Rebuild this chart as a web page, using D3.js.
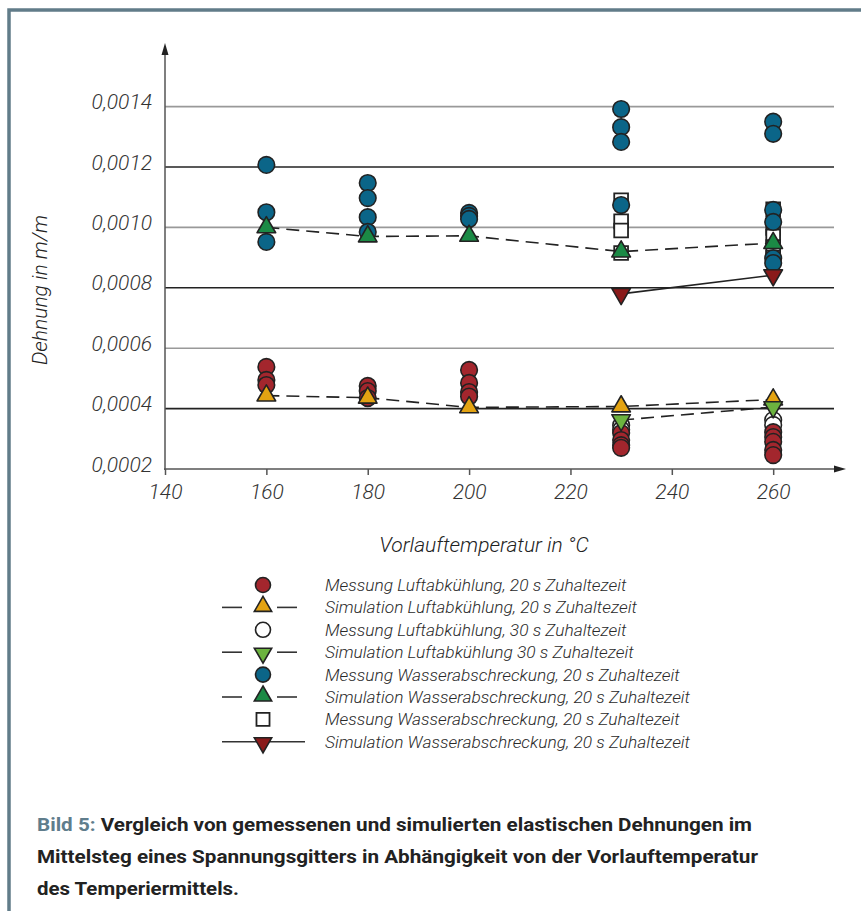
<!DOCTYPE html>
<html>
<head>
<meta charset="utf-8">
<script src="https://cdn.jsdelivr.net/npm/d3@7"></script>
<style>
  body { margin: 0; background: #fff; }
  text { font-family: Roboto, "Liberation Sans", sans-serif; }
</style>
</head>
<body>
<div id="chart"></div>
<script>
// temperatures on the x axis
var temps = [160, 180, 200, 230, 260];
var xTicks = [140, 160, 180, 200, 220, 240, 260];
var yTicks = [0.0002, 0.0004, 0.0006, 0.0008, 0.0010, 0.0012, 0.0014];

// measurements: [temperature, [values...]]
var messLuft20 = [
  [160, [0.000538, 0.000495, 0.000478]],
  [180, [0.000475, 0.000458, 0.000435]],
  [200, [0.000528, 0.000485, 0.000455, 0.00044]],
  [230, [0.000319, 0.000296, 0.000279, 0.00027]],
  [260, [0.000322, 0.000306, 0.00029, 0.000263, 0.000246]]
];
var messLuft30 = [
  [230, [0.000345, 0.00033]],
  [260, [0.000362, 0.000346]]
];
var messWasser20 = [
  [160, [0.001207, 0.00105, 0.000952]],
  [180, [0.001147, 0.001097, 0.001034, 0.000985]],
  [200, [0.001048, 0.001038, 0.001028]],
  [230, [0.001392, 0.001332, 0.001283, 0.001074]],
  [260, [0.00135, 0.00131, 0.001058, 0.001018, 0.000898, 0.000882]]
];
var messWasser20b = [
  [230, [0.00109, 0.00102, 0.00099, 0.000915]],
  [260, [0.00106, 0.000998, 0.00097, 0.000935, 0.0009]]
];

// simulations (one value per temperature)
var simLuft20 = [0.000443, 0.000436, 0.000404, 0.000407, 0.00043];
var simLuft30Temps = [230, 260];
var simLuft30 = [0.000362, 0.000405];
var simWasser20 = [0.001, 0.00097, 0.000972, 0.00092, 0.000948];
var simWasser20bTemps = [230, 260];
var simWasser20b = [0.00078, 0.000842];

var legendLabels = [
  "Messung Luftabkühlung, 20 s Zuhaltezeit",
  "Simulation Luftabkühlung, 20 s Zuhaltezeit",
  "Messung Luftabkühlung, 30 s Zuhaltezeit",
  "Simulation Luftabkühlung 30 s Zuhaltezeit",
  "Messung Wasserabschreckung, 20 s Zuhaltezeit",
  "Simulation Wasserabschreckung, 20 s Zuhaltezeit",
  "Messung Wasserabschreckung, 20 s Zuhaltezeit",
  "Simulation Wasserabschreckung, 20 s Zuhaltezeit"
];

var col = {
  red: "#a3262d", orange: "#e3a312", blue: "#0b6588",
  green: "#1b8a45", lgreen: "#6cb33f", dred: "#8a1a1a", stroke: "#222"
};

var W = 861, H = 911;
var svg = d3.select("#chart").append("svg")
  .attr("width", W).attr("height", H);

// frame
svg.append("path")
  .attr("d", "M9," + (H + 5) + "V10H" + (W + 5))
  .attr("fill", "none").attr("stroke", "#617c89").attr("stroke-width", 3.5);

var x = d3.scaleLinear().domain([140, 272]).range([165, 834]);
var y = d3.scaleLinear().domain([0.0002, 0.0016]).range([469, 46.2]);

var de = d3.formatLocale({decimal: ",", thousands: ".", grouping: [3], currency: ["", "€"]});
var fmt = de.format(".4f");

// gridlines
svg.selectAll(".grid")
  .data(yTicks.slice(1))
  .enter().append("line")
  .attr("x1", x(140)).attr("x2", x(272))
  .attr("y1", function(d) { return y(d); })
  .attr("y2", function(d) { return y(d); })
  .attr("stroke", function(d, i) { return i % 2 == 0 ? "#222" : "#999"; })
  .attr("stroke-width", 1.6);

// x axis
var gx = svg.append("g")
  .attr("transform", "translate(0," + y(0.0002) + ")")
  .call(d3.axisBottom(x).tickValues(xTicks).tickSize(6).tickPadding(9));
gx.select(".domain").remove();
gx.selectAll("line").attr("stroke", "#555").attr("stroke-width", 1.5);
gx.selectAll("text")
  .attr("font-size", 21).attr("font-style", "italic").attr("font-weight", 300)
  .attr("fill", "#333");

// y axis
var gy = svg.append("g")
  .attr("transform", "translate(" + x(140) + ",0)")
  .call(d3.axisLeft(y).tickValues(yTicks).tickSize(0).tickPadding(13).tickFormat(fmt));
gy.select(".domain").remove();
gy.selectAll("text")
  .attr("font-size", 21).attr("font-style", "italic").attr("font-weight", 300)
  .attr("fill", "#333").attr("dy", "0.1em");

// axis lines with arrows
svg.append("line")
  .attr("x1", x(140)).attr("x2", x(140))
  .attr("y1", y(0.0002) + 1).attr("y2", 52)
  .attr("stroke", "#555").attr("stroke-width", 1.5);
svg.append("path")
  .attr("d", "M" + x(140) + ",43l-3.5,12h7z").attr("fill", "#222");
svg.append("line")
  .attr("x1", x(140) - 1).attr("x2", 836)
  .attr("y1", y(0.0002)).attr("y2", y(0.0002))
  .attr("stroke", "#555").attr("stroke-width", 1.5);
svg.append("path")
  .attr("d", "M846," + y(0.0002) + "l-12,-3.5v7z").attr("fill", "#222");

// axis titles
svg.append("text")
  .attr("transform", "translate(47,290) rotate(-90)")
  .attr("text-anchor", "middle")
  .attr("font-size", 21).attr("font-style", "italic").attr("font-weight", 300)
  .attr("fill", "#222")
  .text("Dehnung in m/m");
svg.append("text")
  .attr("x", 484).attr("y", 552)
  .attr("text-anchor", "middle")
  .attr("font-size", 21).attr("font-style", "italic").attr("font-weight", 300)
  .attr("fill", "#222")
  .text("Vorlauftemperatur in °C");

// helpers
function flatten(arr) {
  var out = [];
  arr.forEach(function(d) {
    d[1].forEach(function(v) { out.push({t: d[0], v: v}); });
  });
  return out;
}
var triUp = d3.symbol().type(d3.symbolTriangle).size(150);
var sq = d3.symbol().type(d3.symbolSquare).size(190);

function drawLine(ts, vs, dashed) {
  var pts = ts.map(function(t, i) { return [x(t), y(vs[i])]; });
  svg.append("path")
    .attr("d", d3.line()(pts))
    .attr("fill", "none").attr("stroke", col.stroke).attr("stroke-width", 1.6)
    .attr("stroke-dasharray", dashed ? "13,7" : null);
}
function drawCircles(data, fill) {
  svg.append("g").selectAll("circle")
    .data(flatten(data)).enter().append("circle")
    .attr("cx", function(d) { return x(d.t); })
    .attr("cy", function(d) { return y(d.v); })
    .attr("r", 8.3)
    .attr("fill", fill).attr("stroke", col.stroke).attr("stroke-width", 1.6);
}
function drawSquares(data) {
  svg.append("g").selectAll("path")
    .data(flatten(data)).enter().append("path")
    .attr("d", sq)
    .attr("transform", function(d) { return "translate(" + x(d.t) + "," + y(d.v) + ")"; })
    .attr("fill", "#fff").attr("stroke", col.stroke).attr("stroke-width", 1.8);
}
function drawTris(ts, vs, fill, down) {
  svg.append("g").selectAll("path")
    .data(ts.map(function(t, i) { return {t: t, v: vs[i]}; })).enter().append("path")
    .attr("d", triUp)
    .attr("transform", function(d) {
      return "translate(" + x(d.t) + "," + y(d.v) + ")" + (down ? " rotate(180)" : "");
    })
    .attr("fill", fill).attr("stroke", col.stroke).attr("stroke-width", 1.6)
    .attr("stroke-linejoin", "round");
}

// lines first
drawLine(temps, simLuft20, true);
drawLine(simLuft30Temps, simLuft30, true);
drawLine(temps, simWasser20, true);
drawLine(simWasser20bTemps, simWasser20b, false);

// measurements
drawCircles(messLuft30, "#fff");
drawCircles(messLuft20, col.red);
drawSquares(messWasser20b);
drawCircles(messWasser20, col.blue);

// simulation markers
drawTris(temps, simLuft20, col.orange, false);
drawTris(simLuft30Temps, simLuft30, col.lgreen, true);
drawTris(temps, simWasser20, col.green, false);
drawTris(simWasser20bTemps, simWasser20b, col.dred, true);

// legend
var legStyles = [
  {m: "circle", fill: col.red},
  {m: "up", fill: col.orange, line: "dash"},
  {m: "circle", fill: "#fff"},
  {m: "down", fill: col.lgreen, line: "dash"},
  {m: "circle", fill: col.blue},
  {m: "up", fill: col.green, line: "dash"},
  {m: "square", fill: "#fff"},
  {m: "down", fill: col.dred, line: "solid"}
];
var leg = svg.append("g");
var legTexts = [];
legendLabels.forEach(function(lab, i) {
  var cy = 585 + i * 22.4, cx = 263, s = legStyles[i];
  if (s.line == "dash") {
    leg.append("line").attr("x1", 222).attr("x2", 242).attr("y1", cy).attr("y2", cy)
      .attr("stroke", "#333").attr("stroke-width", 1.6);
    leg.append("line").attr("x1", 277).attr("x2", 297).attr("y1", cy).attr("y2", cy)
      .attr("stroke", "#333").attr("stroke-width", 1.6);
  } else if (s.line == "solid") {
    leg.append("line").attr("x1", 222).attr("x2", 305).attr("y1", cy).attr("y2", cy)
      .attr("stroke", "#333").attr("stroke-width", 1.6);
  }
  if (s.m == "circle") {
    leg.append("circle").attr("cx", cx).attr("cy", cy).attr("r", 7.5)
      .attr("fill", s.fill).attr("stroke", col.stroke).attr("stroke-width", 1.6);
  } else if (s.m == "square") {
    leg.append("path").attr("d", d3.symbol().type(d3.symbolSquare).size(170))
      .attr("transform", "translate(" + cx + "," + cy + ")")
      .attr("fill", s.fill).attr("stroke", col.stroke).attr("stroke-width", 1.8);
  } else {
    leg.append("path").attr("d", d3.symbol().type(d3.symbolTriangle).size(130))
      .attr("transform", "translate(" + cx + "," + (cy + (s.m == "down" ? 1 : -1)) + ")" + (s.m == "down" ? " rotate(180)" : ""))
      .attr("fill", s.fill).attr("stroke", col.stroke).attr("stroke-width", 1.6);
  }
  legTexts.push(leg.append("text")
    .attr("x", 325).attr("y", cy + 6)
    .attr("font-size", 16.5).attr("font-style", "italic").attr("font-weight", 300)
    .attr("fill", "#2a2a2a")
    .text(lab));
});
// stretch legend text to the width used in the original figure
var legMax = d3.max(legTexts, function(t) { return t.node().getComputedTextLength(); });
legTexts.forEach(function(t) {
  var w = t.node().getComputedTextLength();
  t.attr("textLength", w * 365 / legMax).attr("lengthAdjust", "spacingAndGlyphs");
});

// caption
var capLines = [
  ["Bild 5: ", "Vergleich von gemessenen und simulierten elastischen Dehnungen im", 715],
  ["", "Mittelsteg eines Spannungsgitters in Abhängigkeit von der Vorlauftemperatur", 721],
  ["", "des Temperiermittels.", 202]
];
capLines.forEach(function(l, i) {
  var t = svg.append("text")
    .attr("x", 37).attr("y", 831 + i * 32)
    .attr("font-size", 18.5).attr("font-weight", 700)
    .attr("fill", "#222")
    .attr("textLength", l[2]).attr("lengthAdjust", "spacingAndGlyphs");
  if (l[0]) t.append("tspan").attr("fill", "#5f7d8c").text(l[0]);
  t.append("tspan").text(l[1]);
});
</script>
</body>
</html>
